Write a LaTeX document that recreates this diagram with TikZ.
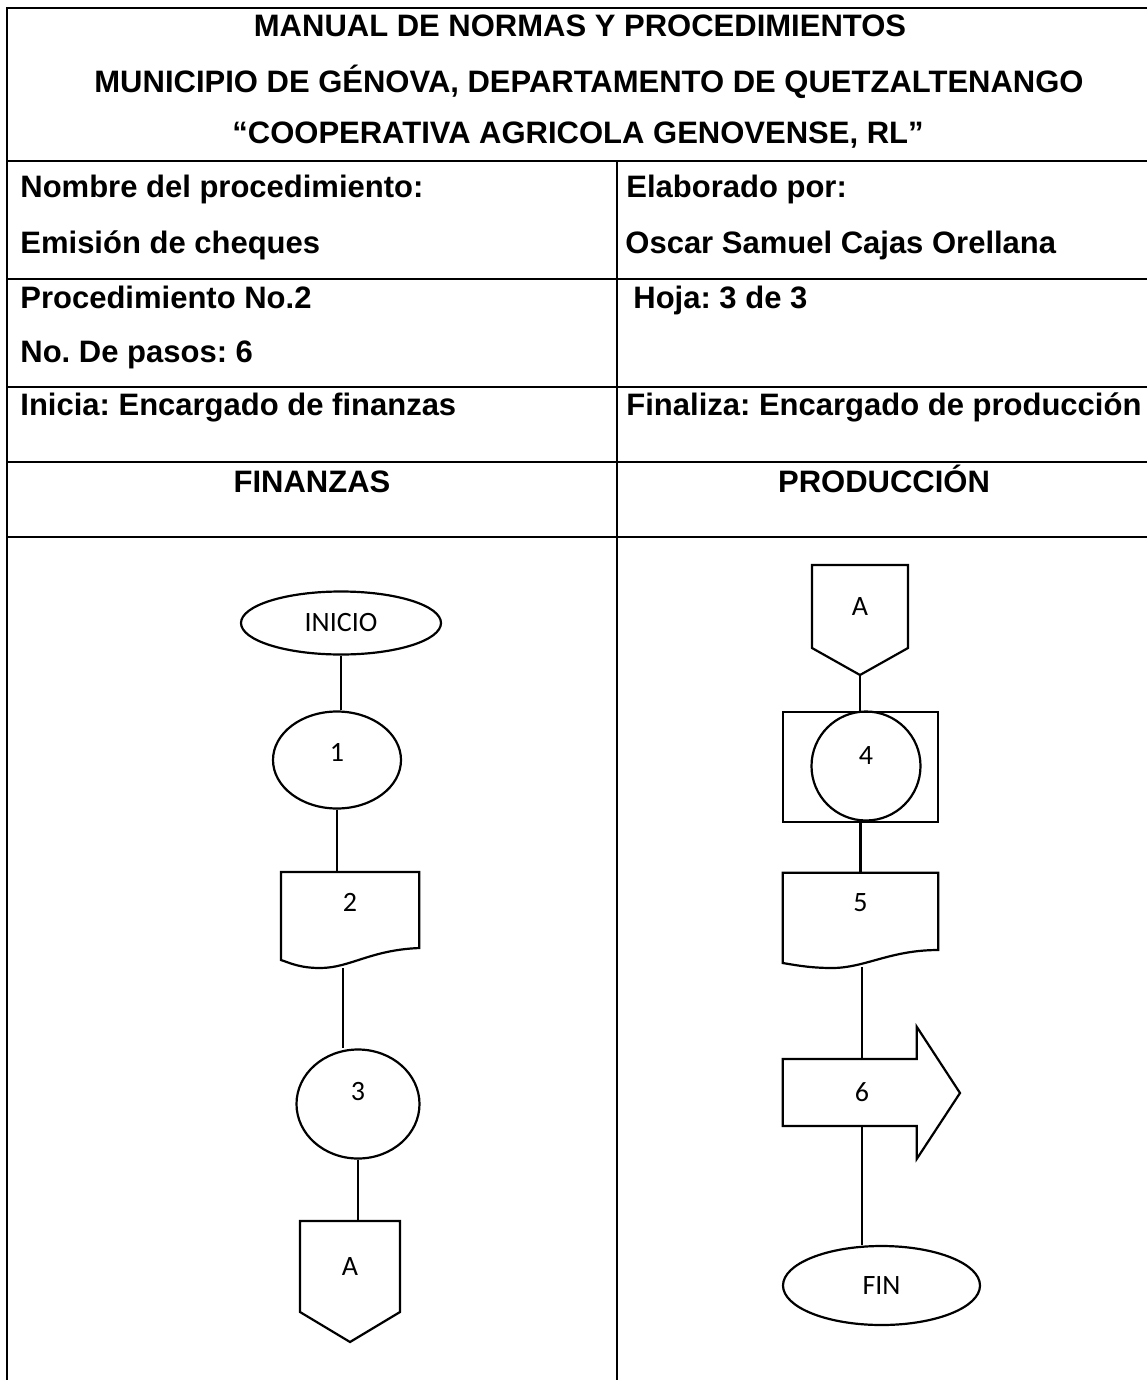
\documentclass[tikz,border=0pt]{standalone}
\usepackage{fontspec}
\setmainfont{Liberation Sans}
\newfontfamily\flowfont{Carlito}
\usetikzlibrary{shapes.geometric}
\frenchspacing
\begin{document}
\begin{tikzpicture}[x=0.5pt,y=-0.5pt,
  tbl/.style={line width=1.1pt},
  hdr/.style={font=\bfseries\fontsize{15.5pt}{18pt}\selectfont, inner sep=0pt},
  outline/.style={draw, line width=1.1pt, line join=miter},
  flow/.style={line width=1.1pt, font=\flowfont\fontsize{14pt}{16pt}\selectfont, inner sep=0pt, text height=8.9pt},
  term/.style={flow, draw, ellipse, text depth=0pt},
  proc/.style={flow, draw, ellipse},
  holder/.style={flow, rectangle, draw=none, text depth=0pt},
  conn/.style={line width=1.1pt}
]
\useasboundingbox (0,0) rectangle (1147,1380);
% ---------- table ----------
\draw[tbl] (1147,8) -- (7,8) -- (7,1380);
\foreach \yy in {161,279,387,462,537} \draw[tbl] (7,\yy) -- (1147,\yy);
\draw[tbl] (617,161) -- (617,1380);
% ---------- header texts ----------
\node[hdr, anchor=base] (t1) at (580,37) {MANUAL DE NORMAS Y PROCEDIMIENTOS};
\node[hdr, anchor=base] (t2) at (589,93) {MUNICIPIO DE GÉNOVA, DEPARTAMENTO DE QUETZALTENANGO};
\node[hdr, anchor=base] (t3) at (578,144) {“COOPERATIVA AGRICOLA GENOVENSE, RL”};
\node[hdr, anchor=base west] (nom) at (20,198) {Nombre del procedimiento:};
\node[hdr, anchor=base west] (emi) at (20,253) {Emisión de cheques};
\node[hdr, anchor=base west] (pro) at (20,308) {Procedimiento No.2};
\node[hdr, anchor=base west] (pas) at (20,362) {No. De pasos: 6};
\node[hdr, anchor=base west] (ini) at (20,415) {Inicia: Encargado de finanzas};
\node[hdr, anchor=base west] (ela) at (626,198) {Elaborado por:};
\node[hdr, anchor=base west] (osc) at (625,253) {Oscar Samuel Cajas Orellana};
\node[hdr, anchor=base west] (hoj) at (633,308) {Hoja: 3 de 3};
\node[hdr, anchor=base west] (fnl) at (626,415) {Finaliza: Encargado de producción};
\node[hdr, anchor=base] (fin1) at (312,492) {FINANZAS};
\node[hdr, anchor=base] (prd) at (884,492) {PRODUCCIÓN};
% ---------- left flow ----------
\node[term, minimum width=100pt, minimum height=31.5pt] (inicio) at (341,623) {INICIO};
\node[proc, minimum width=64pt, minimum height=48.5pt, text depth=7pt] (p1) at (337,760) {1};
\draw[outline] (281,872) -- (419.3,872) -- (419.3,948)
  .. controls (370,950) and (350,968) .. (320,968)
  .. controls (300,968) and (290,963) .. (281,960) -- cycle;
\node[holder, minimum width=69.15pt, minimum height=31pt] (d2) at (350,903) {2};
\coordinate (d2b) at (343,968);
\node[proc, minimum width=61.5pt, minimum height=54.5pt, text depth=12pt] (p3) at (358,1104) {3};
\draw[outline] (300,1221) -- (400,1221) -- (400,1312) -- (350,1342) -- (300,1312) -- cycle;
\node[holder, minimum width=50pt, minimum height=45.5pt] (offA) at (350,1266.5) {A};
\draw[conn] (inicio.south) -- (inicio.south |- p1.north);
\draw[conn] (p1.south) -- (p1.south |- d2.north);
\draw[conn] (d2b) -- (d2b |- p3.north);
\draw[conn] (p3.south) -- (p3.south |- offA.north);
% ---------- right flow ----------
\draw[outline] (812,565) -- (908,565) -- (908,648) -- (860,675) -- (812,648) -- cycle;
\node[holder, minimum width=48pt, minimum height=41.5pt] (offB) at (860,606.5) {A};
\coordinate (offBtip) at (860,675);
\node[flow, draw, rectangle, minimum width=77.8pt, minimum height=55pt] (b4) at (860.5,767) {};
\node[flow, draw, circle, minimum size=54.5pt, text depth=10pt] (p4) at (866,766) {4};
\draw[outline] (782.7,872.7) -- (938.3,872.7) -- (938.3,950)
  .. controls (890,950) and (865,968) .. (832,968)
  .. controls (810,968) and (795,965) .. (782.7,963) -- cycle;
\node[holder, minimum width=77.8pt, minimum height=30.3pt] (d5) at (860.5,903) {5};
\coordinate (d5b) at (862,967);
\draw[outline] (782.7,1059) -- (916.7,1059) -- (916.7,1026.7) -- (960,1093) -- (916.7,1159) -- (916.7,1126) -- (782.7,1126) -- cycle;
\node[holder, minimum width=79.3pt, minimum height=33.5pt] (a6) at (862,1092.5) {6};
\node[term, minimum width=98.5pt, minimum height=39.5pt] (fin) at (881.5,1285.5) {FIN};
\draw[conn] (offBtip) -- (offBtip |- b4.north);
\draw[conn] (b4.south) -- (b4.south |- d5.north);
\draw[conn] (d5b) -- (d5b |- a6.north);
\draw[conn] (a6.south) -- (a6.south |- fin.north);
\end{tikzpicture}
\end{document}
